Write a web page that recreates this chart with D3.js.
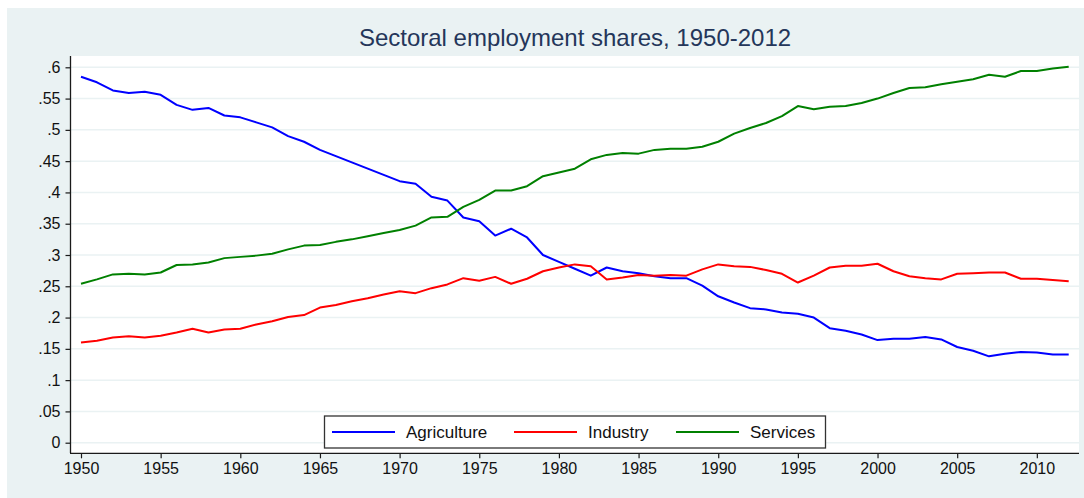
<!DOCTYPE html>
<html>
<head>
<meta charset="utf-8">
<script src="https://cdn.jsdelivr.net/npm/d3@7"></script>
<style>
  body { margin: 0; background: #fff; }
  svg { display: block; font-family: "Liberation Sans", Arial, sans-serif; }
</style>
</head>
<body>
<svg id="chart" width="1084" height="498"></svg>
<script>
// data
const years = d3.range(1950, 2013);
const agriculture = [
  0.585, 0.576, 0.563, 0.559, 0.561, 0.556, 0.540, 0.532, 0.535, 0.523,
  0.520, 0.512, 0.504, 0.490, 0.481, 0.468, 0.458, 0.448, 0.438, 0.428,
  0.418, 0.414, 0.393, 0.387, 0.360, 0.354, 0.331, 0.342, 0.328, 0.300,
  0.289, 0.278, 0.267, 0.280, 0.274, 0.271, 0.266, 0.263, 0.263, 0.251,
  0.234, 0.224, 0.215, 0.213, 0.208, 0.206, 0.200, 0.183, 0.179, 0.173,
  0.164, 0.166, 0.166, 0.169, 0.165, 0.153, 0.147, 0.138, 0.142, 0.145,
  0.144, 0.141, 0.141
];
const industry = [
  0.160, 0.163, 0.168, 0.170, 0.168, 0.171, 0.176, 0.182, 0.176, 0.181,
  0.182, 0.189, 0.194, 0.201, 0.204, 0.216, 0.220, 0.226, 0.231, 0.237,
  0.242, 0.239, 0.247, 0.253, 0.263, 0.259, 0.265, 0.254, 0.262, 0.274,
  0.280, 0.285, 0.282, 0.261, 0.264, 0.268, 0.267, 0.268, 0.267, 0.277,
  0.285, 0.282, 0.281, 0.276, 0.270, 0.256, 0.267, 0.280, 0.283, 0.283,
  0.286, 0.274, 0.266, 0.263, 0.261, 0.270, 0.271, 0.272, 0.272, 0.262,
  0.262, 0.260, 0.258
];
const services = [
  0.254, 0.261, 0.269, 0.270, 0.269, 0.272, 0.284, 0.285, 0.288, 0.295,
  0.297, 0.299, 0.302, 0.309, 0.315, 0.316, 0.321, 0.325, 0.330, 0.335,
  0.340, 0.347, 0.360, 0.361, 0.377, 0.388, 0.403, 0.403, 0.410, 0.426,
  0.432, 0.438, 0.453, 0.460, 0.463, 0.462, 0.468, 0.470, 0.470, 0.473,
  0.481, 0.494, 0.503, 0.511, 0.522, 0.538, 0.533, 0.537, 0.538, 0.543,
  0.550, 0.559, 0.567, 0.568, 0.573, 0.577, 0.581, 0.588, 0.585, 0.594,
  0.594, 0.598, 0.601
];
const seriesNames = ["Agriculture", "Industry", "Services"];
const seriesColors = ["#0000ff", "#ff0000", "#008000"];
const xTicks = d3.range(1950, 2011, 5);
const yTicks = d3.range(0, 0.601, 0.05);

const svg = d3.select("#chart");

// outer background
svg.append("rect")
  .attr("x", 7).attr("y", 8)
  .attr("width", 1077).attr("height", 490)
  .attr("fill", "#eaf2f3");

// plot region
const plot = { left: 71, right: 1079, top: 56, bottom: 453 };
svg.append("rect")
  .attr("x", plot.left).attr("y", plot.top)
  .attr("width", plot.right - plot.left).attr("height", plot.bottom - plot.top)
  .attr("fill", "#fff");

const x = d3.scaleLinear().domain([1950, 2012]).range([81, 1068.7]);
const y = d3.scaleLinear().domain([0, 0.6]).range([442.7, 67.3]);

// gridlines
svg.append("g")
  .selectAll("line")
  .data(yTicks)
  .join("line")
  .attr("x1", plot.left).attr("x2", plot.right)
  .attr("y1", d => y(d)).attr("y2", d => y(d))
  .attr("stroke", "#eaf2f3")
  .attr("stroke-width", 1.5);

const fmt = d => d === 0 ? "0" : String(+d.toFixed(2)).replace(/^0/, "");

// y axis
const yAxis = svg.append("g")
  .attr("transform", `translate(${plot.left - 0.5},0)`)
  .call(d3.axisLeft(y).tickValues(yTicks).tickFormat(fmt).tickSize(5).tickPadding(5));
yAxis.select(".domain").remove();
yAxis.append("line")
  .attr("x1", 0).attr("x2", 0)
  .attr("y1", plot.top).attr("y2", plot.bottom)
  .attr("stroke", "#1a1a1a").attr("stroke-width", 1.3);

// x axis
const xAxis = svg.append("g")
  .attr("transform", `translate(0,${plot.bottom + 0.3})`)
  .call(d3.axisBottom(x).tickValues(xTicks).tickFormat(d3.format("d")).tickSize(5).tickPadding(4));
xAxis.select(".domain").remove();
xAxis.append("line")
  .attr("x1", plot.left - 1).attr("x2", plot.right)
  .attr("y1", 0).attr("y2", 0)
  .attr("stroke", "#1a1a1a").attr("stroke-width", 1.3);

svg.selectAll(".tick line").attr("stroke", "#1a1a1a").attr("stroke-width", 1.2);
svg.selectAll(".tick text")
  .attr("font-size", 16)
  .attr("font-family", "Liberation Sans, Arial, sans-serif")
  .attr("fill", "#111");

// series lines
const allSeries = [agriculture, industry, services];
const line = d3.line()
  .x((d, i) => x(years[i]))
  .y(d => y(d));

svg.append("g")
  .selectAll("path")
  .data(allSeries)
  .join("path")
  .attr("d", line)
  .attr("fill", "none")
  .attr("stroke", (d, i) => seriesColors[i])
  .attr("stroke-width", 2)
  .attr("stroke-linejoin", "round");

// title
svg.append("text")
  .attr("x", (plot.left + plot.right) / 2)
  .attr("y", 46)
  .attr("text-anchor", "middle")
  .attr("font-size", 24)
  .attr("fill", "#24365a")
  .text("Sectoral employment shares, 1950-2012");

// legend
const legend = svg.append("g");
legend.append("rect")
  .attr("x", 324.5).attr("y", 416)
  .attr("width", 501).attr("height", 32)
  .attr("fill", "#fff")
  .attr("stroke", "#333")
  .attr("stroke-width", 1.3);

const legendLineX = [332, 514, 676];
const items = legend.selectAll("g.item")
  .data(seriesNames)
  .join("g")
  .attr("class", "item")
  .attr("transform", (d, i) => `translate(${legendLineX[i]},0)`);
items.append("line")
  .attr("x1", 0).attr("x2", 63)
  .attr("y1", 432).attr("y2", 432)
  .attr("stroke", (d, i) => seriesColors[i])
  .attr("stroke-width", 2);
items.append("text")
  .attr("x", 74)
  .attr("y", 438)
  .attr("font-size", 17)
  .attr("fill", "#111")
  .text(d => d);
</script>
</body>
</html>
